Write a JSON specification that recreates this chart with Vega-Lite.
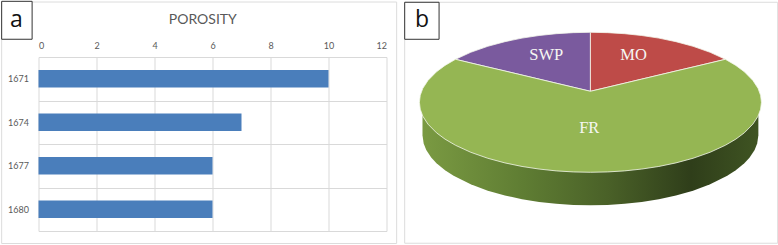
{"$schema":"https://vega.github.io/schema/vega-lite/v6.json","padding":{"left":0.5,"top":0,"right":0,"bottom":0},"spacing":18.2,"bounds":"flush","background":"white","config":{"view":{"stroke":null},"font":"Lato"},"datasets":{"slices":[
{"slice":"SWP","u":-0.789,"top":0.614,"bottom":0.614},{"slice":"SWP","u":-0.7,"top":0.714,"bottom":0.562},{"slice":"SWP","u":-0.6,"top":0.8,"bottom":0.504},{"slice":"SWP","u":-0.5,"top":0.866,"bottom":0.447},{"slice":"SWP","u":-0.4,"top":0.917,"bottom":0.389},{"slice":"SWP","u":-0.3,"top":0.954,"bottom":0.331},{"slice":"SWP","u":-0.2,"top":0.98,"bottom":0.273},{"slice":"SWP","u":-0.1,"top":0.995,"bottom":0.215},{"slice":"SWP","u":0,"top":1,"bottom":0.157},
{"slice":"MO","u":0,"top":1,"bottom":0.157},{"slice":"MO","u":0.1,"top":0.995,"bottom":0.215},{"slice":"MO","u":0.2,"top":0.98,"bottom":0.273},{"slice":"MO","u":0.3,"top":0.954,"bottom":0.331},{"slice":"MO","u":0.4,"top":0.917,"bottom":0.389},{"slice":"MO","u":0.5,"top":0.866,"bottom":0.447},{"slice":"MO","u":0.6,"top":0.8,"bottom":0.504},{"slice":"MO","u":0.7,"top":0.714,"bottom":0.562},{"slice":"MO","u":0.789,"top":0.614,"bottom":0.614},
{"slice":"FR","u":-1,"top":0,"bottom":0},{"slice":"FR","u":-0.995,"top":0.0999,"bottom":-0.0999},{"slice":"FR","u":-0.98,"top":0.199,"bottom":-0.199},{"slice":"FR","u":-0.95,"top":0.312,"bottom":-0.312},{"slice":"FR","u":-0.9,"top":0.436,"bottom":-0.436},{"slice":"FR","u":-0.85,"top":0.527,"bottom":-0.527},{"slice":"FR","u":-0.789,"top":0.614,"bottom":-0.614},{"slice":"FR","u":-0.7,"top":0.562,"bottom":-0.714},{"slice":"FR","u":-0.6,"top":0.504,"bottom":-0.8},{"slice":"FR","u":-0.5,"top":0.447,"bottom":-0.866},{"slice":"FR","u":-0.4,"top":0.389,"bottom":-0.917},{"slice":"FR","u":-0.3,"top":0.331,"bottom":-0.954},{"slice":"FR","u":-0.2,"top":0.273,"bottom":-0.98},{"slice":"FR","u":-0.1,"top":0.215,"bottom":-0.995},{"slice":"FR","u":0,"top":0.157,"bottom":-1},{"slice":"FR","u":0.1,"top":0.215,"bottom":-0.995},{"slice":"FR","u":0.2,"top":0.273,"bottom":-0.98},{"slice":"FR","u":0.3,"top":0.331,"bottom":-0.954},{"slice":"FR","u":0.4,"top":0.389,"bottom":-0.917},{"slice":"FR","u":0.5,"top":0.447,"bottom":-0.866},{"slice":"FR","u":0.6,"top":0.504,"bottom":-0.8},{"slice":"FR","u":0.7,"top":0.562,"bottom":-0.714},{"slice":"FR","u":0.789,"top":0.614,"bottom":-0.614},{"slice":"FR","u":0.85,"top":0.527,"bottom":-0.527},{"slice":"FR","u":0.9,"top":0.436,"bottom":-0.436},{"slice":"FR","u":0.95,"top":0.312,"bottom":-0.312},{"slice":"FR","u":0.98,"top":0.199,"bottom":-0.199},{"slice":"FR","u":0.995,"top":0.0999,"bottom":-0.0999},{"slice":"FR","u":1,"top":0,"bottom":0}],
"wall":[{"u":-0.982,"top":0,"bottom":-0.471},{"u":-0.975,"top":0,"bottom":-0.59},{"u":-0.96,"top":0,"bottom":-0.68},{"u":-0.93,"top":0,"bottom":-0.792},{"u":-0.9,"top":0,"bottom":-0.871},{"u":-0.85,"top":0,"bottom":-0.972},{"u":-0.8,"top":0,"bottom":-1.051},{"u":-0.7,"top":0,"bottom":-1.172},{"u":-0.6,"top":0,"bottom":-1.263},{"u":-0.5,"top":0,"bottom":-1.332},{"u":-0.4,"top":0,"bottom":-1.384},{"u":-0.3,"top":0,"bottom":-1.423},{"u":-0.2,"top":0,"bottom":-1.45},{"u":-0.1,"top":0,"bottom":-1.466},{"u":0,"top":0,"bottom":-1.471},{"u":0.1,"top":0,"bottom":-1.466},{"u":0.2,"top":0,"bottom":-1.45},{"u":0.3,"top":0,"bottom":-1.423},{"u":0.4,"top":0,"bottom":-1.384},{"u":0.5,"top":0,"bottom":-1.332},{"u":0.6,"top":0,"bottom":-1.263},{"u":0.7,"top":0,"bottom":-1.172},{"u":0.8,"top":0,"bottom":-1.051},{"u":0.85,"top":0,"bottom":-0.972},{"u":0.9,"top":0,"bottom":-0.871},{"u":0.93,"top":0,"bottom":-0.792},{"u":0.96,"top":0,"bottom":-0.68},{"u":0.975,"top":0,"bottom":-0.59},{"u":0.982,"top":0,"bottom":-0.471}]},
"hconcat":[
{"width":348,"height":174,
"resolve":{"scale":{"y":"independent"}},
"layer":[
{"data":{"values":[{"depth":"1671","porosity":10},{"depth":"1674","porosity":7},{"depth":"1677","porosity":6},{"depth":"1680","porosity":6}]},
"mark":{"type":"bar","color":"#4a7ebb","size":17.4},
"encoding":{"y":{"field":"depth","type":"nominal","sort":null,"scale":{"paddingInner":0,"paddingOuter":0},"axis":{"title":null,"orient":"left","tickBand":"extent","grid":true,"gridColor":"#d9d9d9","gridWidth":1,"ticks":false,"domain":false,"labelFontSize":9,"labelColor":"#595959","labelPadding":10,"labelFont":"Lato"}},
"x":{"field":"porosity","type":"quantitative","scale":{"domain":[0,12],"nice":false},"axis":{"title":null,"orient":"top","values":[0,2,4,6,8,10,12],"grid":true,"gridColor":"#d9d9d9","gridWidth":1,"ticks":false,"domain":false,"labelFontSize":9,"labelColor":"#595959","labelPadding":7,"labelFont":"Lato"}}}},
{"data":{"values":[{"panel":"a"}]},"mark":{"type":"rect","fill":null,"stroke":"#dcdcdc","strokeWidth":1},
"encoding":{"x":{"datum":-1.27},"x2":{"datum":12.35},"y":{"datum":1.316,"type":"quantitative","scale":{"domain":[0,1],"nice":false},"axis":null},"y2":{"datum":-0.072}}},
{"data":{"values":[{"panel":"a"}]},"mark":{"type":"rect","fill":"white","stroke":"#333333","strokeWidth":1},
"encoding":{"x":{"datum":-1.27},"x2":{"datum":-0.22},"y":{"datum":1.32,"type":"quantitative","scale":{"domain":[0,1],"nice":false},"axis":null},"y2":{"datum":1.102}}},
{"data":{"values":[{"panel":"a"}]},"mark":{"type":"text","font":"Open Sans","fontSize":23,"color":"#111111","baseline":"middle","align":"center"},
"encoding":{"text":{"field":"panel"},"x":{"datum":-0.766},"y":{"datum":1.21,"type":"quantitative","scale":{"domain":[0,1],"nice":false},"axis":null}}},
{"data":{"values":[{"heading":"POROSITY"}]},"mark":{"type":"text","font":"Lato","fontSize":14,"color":"#595959","baseline":"middle","align":"center"},
"encoding":{"text":{"field":"heading"},"x":{"datum":5.666},"y":{"datum":1.211,"type":"quantitative","scale":{"domain":[0,1],"nice":false},"axis":null}}}
]},
{"width":373,"height":174,
"layer":[
{"data":{"values":[{"panel":"b"}]},"mark":{"type":"rect","fill":null,"stroke":"#dcdcdc","strokeWidth":1},
"encoding":{"x":{"datum":-1.086,"type":"quantitative","scale":{"domain":[-1.086,1.095],"nice":false,"zero":false},"axis":null},"x2":{"datum":1.095},"y":{"datum":1.429,"type":"quantitative","scale":{"domain":[-1.839,0.647],"nice":false,"zero":false},"axis":null},"y2":{"datum":-2.014}}},
{"data":{"name":"wall"},"mark":{"type":"area","orient":"vertical","color":{"gradient":"linear","x1":0,"y1":0,"x2":1,"y2":0,"stops":[{"offset":0,"color":"#7a9a42"},{"offset":0.3,"color":"#5f7d33"},{"offset":0.55,"color":"#4a6128"},{"offset":0.8,"color":"#2f3e1a"},{"offset":1,"color":"#3f5422"}]}},
"encoding":{"x":{"field":"u","type":"quantitative"},"y":{"field":"top","type":"quantitative"},"y2":{"field":"bottom"}}},
{"data":{"name":"slices"},"mark":{"type":"area","orient":"vertical","stroke":"#f4f7ec","strokeWidth":0.8},
"encoding":{"x":{"field":"u","type":"quantitative"},"y":{"field":"top","type":"quantitative"},"y2":{"field":"bottom"},"color":{"field":"slice","type":"nominal","legend":null,"scale":{"domain":["FR","MO","SWP"],"range":["#95b653","#be4b48","#7a5a9e"]}}}},
{"data":{"values":[{"label":"MO","u":0.252,"v":0.671},{"label":"SWP","u":-0.258,"v":0.671},{"label":"FR","u":-0.007,"v":-0.371}]},"mark":{"type":"text","font":"Liberation Serif","fontSize":16.5,"color":"#f6f6f2","align":"center","baseline":"middle"},
"encoding":{"text":{"field":"label"},"x":{"field":"u","type":"quantitative"},"y":{"field":"v","type":"quantitative"}}},
{"data":{"values":[{"panel":"b"}]},"mark":{"type":"rect","fill":"white","stroke":"#333333","strokeWidth":1},
"encoding":{"x":{"datum":-1.086},"x2":{"datum":-0.885},"y":{"datum":1.429},"y2":{"datum":0.9}}},
{"data":{"values":[{"panel":"b"}]},"mark":{"type":"text","font":"Open Sans","fontSize":23,"color":"#111111","align":"center","baseline":"middle"},
"encoding":{"text":{"field":"panel"},"x":{"datum":-0.985},"y":{"datum":1.17}}}
]}
]}
